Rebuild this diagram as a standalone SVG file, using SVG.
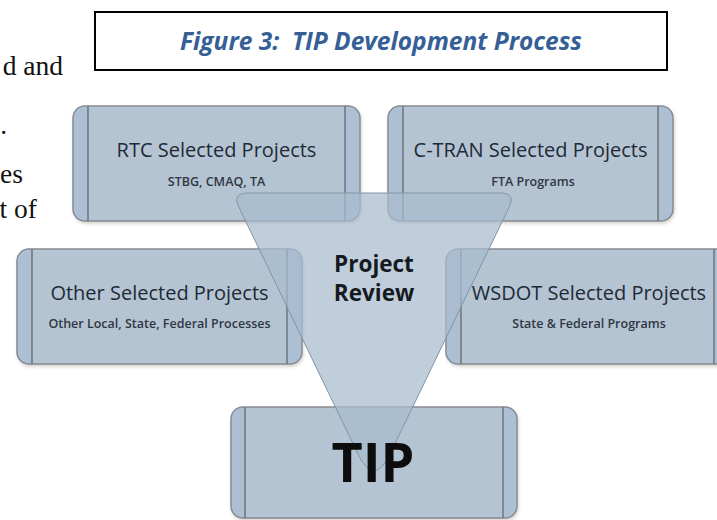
<svg xmlns="http://www.w3.org/2000/svg" width="717" height="520" viewBox="0 0 717 520">
<defs>
<filter id="sh" x="-5%" y="-5%" width="110%" height="115%">
<feDropShadow dx="1" dy="2" stdDeviation="1.5" flood-color="#6e5e50" flood-opacity="0.3"/>
</filter>
<style>
.bg{fill:#a7bbcf;fill-opacity:0.75;stroke:#858a90;stroke-width:1.5}
.strip{fill:#7fa6d2;fill-opacity:0.14;stroke:none}
.inner{stroke:#6f757c;stroke-width:1.5;fill:none}
.tri{fill:#a7bbcf;fill-opacity:0.72;stroke:#8494a6;stroke-width:1}
.t1{font-family:"Open Sans","DejaVu Sans",sans-serif;font-size:20px;fill:#202a36;text-anchor:middle}
.t2{font-family:"Open Sans","DejaVu Sans",sans-serif;font-size:12.5px;font-weight:600;fill:#2e3743;text-anchor:middle}
.side{font-family:"Liberation Serif","Times New Roman",serif;font-size:27.5px;fill:#111;text-anchor:end}
</style>
</defs>
<rect width="717" height="520" fill="#fff"/>
<g id="page-text">
<text class="side" x="63" y="75">d and</text>
<text class="side" x="7" y="134">.</text>
<text class="side" x="23" y="183">es</text>
<text class="side" x="37" y="218">t of</text>
</g>
<g id="title">
<rect x="95" y="12" width="572" height="58" fill="#fff" stroke="#000" stroke-width="2"/>
<text x="381" y="50" xml:space="preserve" font-family="'Open Sans','DejaVu Sans',sans-serif" font-size="24.5" font-weight="bold" font-style="italic" fill="#365f96" text-anchor="middle">Figure 3:  TIP Development Process</text>
</g>
<g id="node-rtc" filter="url(#sh)">
<rect class="bg" x="73" y="106" width="287" height="115" rx="12"/>
<path class="strip" d="M88,106H85A12,12 0 0 0 73,118V209A12,12 0 0 0 85,221H88Z"/>
<path class="strip" d="M345,106H348A12,12 0 0 1 360,118V209A12,12 0 0 1 348,221H345Z"/>
<path class="inner" d="M88,106V221M345,106V221"/>
</g>
<g id="node-ctran" filter="url(#sh)">
<rect class="bg" x="388" y="106" width="285" height="115" rx="12"/>
<path class="strip" d="M403,106H400A12,12 0 0 0 388,118V209A12,12 0 0 0 400,221H403Z"/>
<path class="strip" d="M658,106H661A12,12 0 0 1 673,118V209A12,12 0 0 1 661,221H658Z"/>
<path class="inner" d="M403,106V221M658,106V221"/>
</g>
<g id="node-other" filter="url(#sh)">
<rect class="bg" x="17" y="249" width="285" height="115" rx="12"/>
<path class="strip" d="M32,249H29A12,12 0 0 0 17,261V352A12,12 0 0 0 29,364H32Z"/>
<path class="strip" d="M287,249H290A12,12 0 0 1 302,261V352A12,12 0 0 1 290,364H287Z"/>
<path class="inner" d="M32,249V364M287,249V364"/>
</g>
<g id="node-wsdot" filter="url(#sh)">
<rect class="bg" x="446" y="249" width="283" height="115" rx="12"/>
<path class="strip" d="M461,249H458A12,12 0 0 0 446,261V352A12,12 0 0 0 458,364H461Z"/>
<path class="strip" d="M714,249H717A12,12 0 0 1 729,261V352A12,12 0 0 1 717,364H714Z"/>
<path class="inner" d="M461,249V364M714,249V364"/>
</g>
<g id="node-tip" filter="url(#sh)">
<rect class="bg" x="231" y="407" width="286" height="111" rx="12"/>
<path class="strip" d="M245,407H243A12,12 0 0 0 231,419V506A12,12 0 0 0 243,518H245Z"/>
<path class="strip" d="M503,407H505A12,12 0 0 1 517,419V506A12,12 0 0 1 505,518H503Z"/>
<path class="inner" d="M245,407V518M503,407V518"/>
</g>
<g id="node-review">
<path class="tri" d="M248,193H500Q516,193 509,207.4L389.7,454.6Q374,487 358.3,454.6L239,207.4Q232,193 248,193Z"/>
</g>
<g id="connectors"/>
<g id="labels">
<text class="t1" x="216.5" y="157">RTC Selected Projects</text>
<text class="t2" x="216.5" y="186">STBG, CMAQ, TA</text>
<text class="t1" x="530.5" y="157">C-TRAN Selected Projects</text>
<text class="t2" x="533" y="186">FTA Programs</text>
<text class="t1" x="159.5" y="300">Other Selected Projects</text>
<text class="t2" x="159.5" y="328">Other Local, State, Federal Processes</text>
<text class="t1" x="589" y="300">WSDOT Selected Projects</text>
<text class="t2" x="589" y="328">State &amp; Federal Programs</text>
<text x="374" y="272" font-family="'Open Sans','DejaVu Sans',sans-serif" font-size="22.5" font-weight="bold" fill="#151a20" text-anchor="middle">Project</text>
<text x="374" y="301" font-family="'Open Sans','DejaVu Sans',sans-serif" font-size="22.5" font-weight="bold" fill="#151a20" text-anchor="middle">Review</text>
<text x="373" y="482" font-family="'Open Sans','DejaVu Sans',sans-serif" font-size="54" font-weight="bold" fill="#0d0d0d" text-anchor="middle">TIP</text>
</g>
</svg>
